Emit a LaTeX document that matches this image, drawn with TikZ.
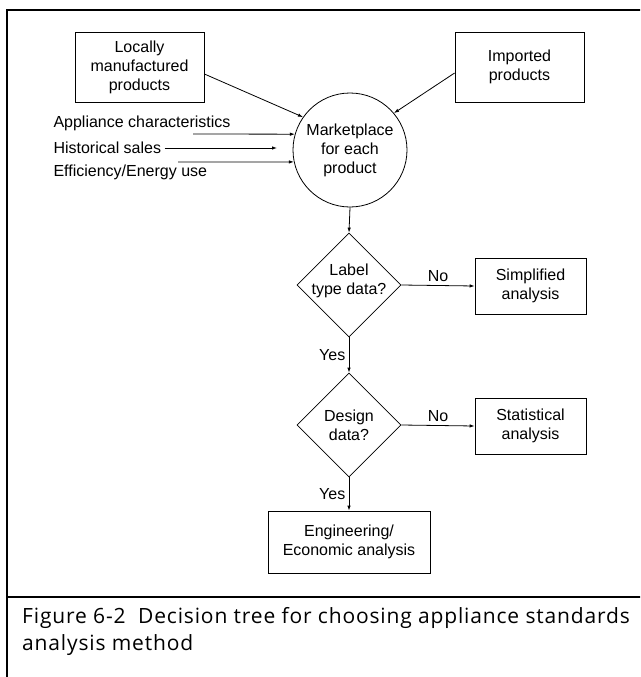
\documentclass[tikz,border=0pt]{standalone}
\usepackage{fontspec}
\setmainfont{Liberation Sans}
\newfontfamily\capfont[LetterSpace=4]{Open Sans}
\usetikzlibrary{shapes.geometric,arrows.meta}

\begin{document}
\begin{tikzpicture}[x=1pt,y=-1pt,
        every node/.style={font=\fontsize{16}{19}\selectfont},
        box/.style={draw,line width=0.8pt,align=center,inner sep=0pt},
        decision/.style={draw,diamond,line width=0.8pt,inner sep=0pt,minimum width=104pt,minimum height=104pt},
        arr/.style={-{Latex[length=5pt,width=3.5pt]},line width=0.8pt}]
        \useasboundingbox (0,0) rectangle (640,677);
        \clip (0,0) rectangle (640,677);
        \draw[line width=1.8pt] (660,10) -- (7,10) -- (7,700);
        \draw[line width=2.2pt] (7,597) -- (660,597);
        \node[box,minimum width=129pt,minimum height=70pt] (local) at (139.5,67) {Locally\\manufactured\\products};
        \node[box,minimum width=129pt,minimum height=70pt] (imported) at (519.5,67) {Imported\\products};
        \node[draw,circle,line width=0.8pt,align=center,inner sep=0pt,minimum size=114pt] (market) at (350,150) {Marketplace\\for each\\product};
        \node[anchor=west] (appl) at (50,123) {Appliance characteristics};
        \node[anchor=west] (hist) at (50,148) {Historical sales};
        \node[anchor=west] (effi) at (50,172) {Efficiency/Energy use};
        \coordinate (applstart) at (193,134);
        \coordinate (histend) at (277,148);
        \coordinate (effistart) at (178,162);
        \node[decision,label={[align=center,yshift=4pt]center:Label\\type data?}] (labelq) at (349,285) {};
        \node[decision,label={[align=center]center:Design\\data?}] (designq) at (349,425) {};
        \node[box,minimum width=111pt,minimum height=56pt] (simple) at (530.5,286) {Simplified\\analysis};
        \node[box,minimum width=111pt,minimum height=56pt] (stat) at (530.5,426) {Statistical\\analysis};
        \node[box,minimum width=162pt,minimum height=62pt] (eng) at (349,542) {Engineering/\\Economic analysis};
        \draw[arr] ([yshift=-7pt]local.east) -- (market.145);
        \draw[arr] ([yshift=-6pt]imported.west) -- (market.40);
        \draw[arr] (applstart) -- (market.164);
        \draw[arr] (hist.east) -- (histend);
        \draw[arr] (effistart) -- (market.192);
        \draw[arr] (market.south) -- (labelq.north);
        \draw[arr] (labelq.east) -- (simple.west) node[midway,above]{No};
        \draw[arr] (labelq.south) -- (designq.north) node[midway,left]{Yes};
        \draw[arr] (designq.east) -- (stat.west) node[midway,above]{No};
        \draw[arr] (designq.south) -- (eng.north) node[midway,left]{Yes};
        \node[anchor=west,align=left,inner sep=0pt,font=\capfont\fontsize{21}{27}\selectfont] (caption) at (22,631.5) {Figure 6-2\ \ Decision tree for choosing appliance standards\\analysis method};
    \end{tikzpicture}
\end{document}
